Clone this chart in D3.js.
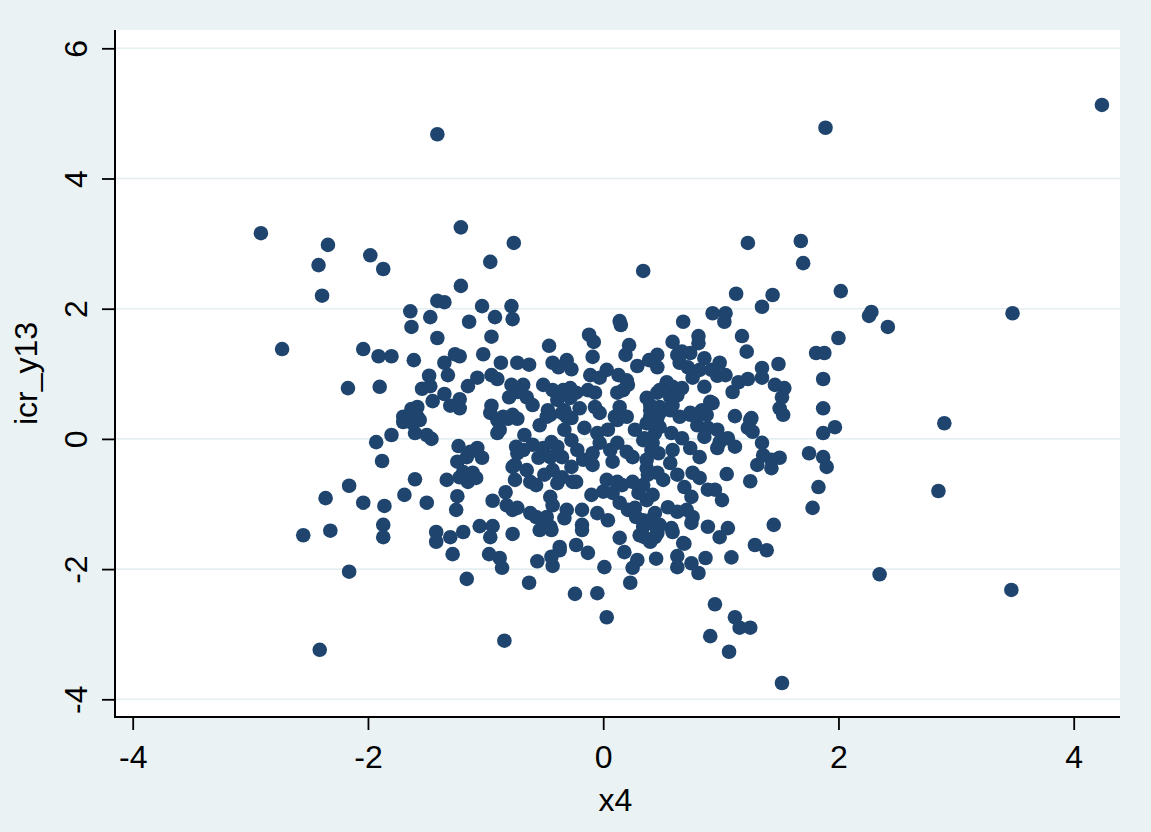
<!DOCTYPE html>
<meta charset="utf-8">
<script src="https://d3js.org/d3.v7.min.js"></script>
<style>
  body { margin: 0; background: #eaf2f3; }
  text { font-family: "Liberation Sans", Arial, Helvetica, sans-serif; }
</style>
<div id="my_dataviz"></div>
<script>
// tick values and axis titles
var xTicks = [-4, -2, 0, 2, 4];
var yTicks = [-4, -2, 0, 2, 4, 6];
var xTitle = "x4";
var yTitle = "icr_y13";

// x4 values
var xVals = [
  4.24, -1.41, 1.89, -2.91, -2.34, -2.42, -2.39, -1.98, -1.87, -1.21,
  -0.96, -0.76, 0.34, 1.23, 1.68, 1.70, 2.02, -2.73, 3.48, 2.26,
  2.28, 2.42, 2.00, 2.90, 2.85, 2.35, 3.47, -2.55, -2.41, -2.16,
  -2.32, -2.36, -2.17, -2.16, -2.04, -2.04, -0.84, 0.03, 1.52, 1.07,
  0.91, 1.16, 1.25, 0.95, 1.12, -0.24, -0.05, -0.63, -1.16, -0.86,
  0.23, -1.21, -1.41, -1.35, -1.64, -1.47, -1.63, -1.41, -1.03, -0.78,
  -1.14, -0.92, -0.77, -0.95, -1.91, -1.80, -1.61, -1.26, -1.22, -1.02,
  -0.87, -0.73, -1.35, -1.32, -1.48, -1.07, -0.95, -0.90, -1.90, -1.54,
  -1.47, -1.15, -0.78, -0.80, -1.45, -1.35, -1.30, -1.22, -1.22, -1.63,
  -1.58, -1.70, -1.58, -0.95, -0.96, -0.77, -0.85, 0.14, 0.15, -0.12,
  -0.08, -0.46, 0.22, 0.19, -0.09, -0.63, -0.43, -0.31, -0.27, -0.38,
  -0.11, -0.03, 0.03, 0.13, 0.20, 0.29, 0.39, 0.46, 0.46, -0.68,
  -0.73, -0.51, -0.43, -0.34, -0.28, -0.39, -0.28, -0.23, -0.13, -0.07,
  0.12, 0.17, 0.14, 0.21, -0.65, -0.60, -0.47, -0.33, -0.20, -0.07,
  -0.03, 0.37, 0.46, 0.46, -0.48, -0.31, 0.10, 0.20, 0.40, 1.13,
  1.44, 1.35, 0.93, 1.04, 1.03, 0.68, 0.81, 0.81, 0.59, 1.18,
  1.22, 1.81, 1.88, 0.63, 0.67, 0.74, 0.65, 0.72, 0.86, 0.99,
  0.92, 0.97, 1.04, 0.76, 0.82, 1.49, 1.35, 1.35, 1.23, 1.15,
  1.10, 1.87, 1.46, 1.54, 1.52, 0.54, 0.48, 0.59, 0.67, 0.57,
  0.63, 0.48, 0.59, 0.40, 0.86, 0.91, 0.93, 0.74, 0.84, 0.88,
  1.12, 1.26, 1.50, 1.53, 1.87, -1.70, -1.62, -1.56, -1.60, -1.50,
  -1.46, -0.90, -0.81, -0.73, -0.90, -1.93, -1.80, -1.88, -1.23, -1.13,
  -1.07, -1.16, -1.03, -1.24, -1.19, -1.11, -1.15, -1.08, -1.22, -0.74,
  -0.73, -0.77, -0.75, -1.60, -1.33, -1.69, -1.50, -1.86, -1.24, -1.25,
  -0.83, -0.94, -0.82, -0.77, -1.87, -1.87, -1.42, -1.42, -1.30, -1.19,
  -1.05, -0.94, -0.96, -0.77, -0.88, -0.54, -0.45, -0.35, -0.27, -0.67,
  -0.68, -0.60, -0.51, -0.55, -0.75, -0.65, -0.62, -0.57, -0.50, -0.43,
  -0.45, -0.35, -0.39, -0.44, -0.33, -0.27, -0.22, -0.17, -0.09, -0.27,
  -0.35, -0.26, -0.16, -0.05, -0.03, -0.09, -0.39, -0.23, -0.73, -0.62,
  -0.57, -0.48, -0.51, -0.45, -0.45, -0.43, -0.31, -0.18, -0.33, -0.18,
  -0.10, 0.00, 0.03, 0.12, 0.08, -0.05, 0.04, 0.14, 0.21, 0.27,
  0.28, 0.34, 0.41, 0.46, 0.16, 0.25, 0.34, 0.30, 0.37, 0.42,
  0.08, 0.06, 0.12, 0.20, 0.25, 0.37, 0.41, 0.46, 0.38, 0.04,
  0.12, 0.27, 0.34, 0.46, 0.44, 0.14, 0.31, 0.40, 0.44, -0.37,
  -0.23, 0.40, 0.48, 0.57, 0.65, 0.74, 0.82, 0.80, 0.89, 0.97,
  0.86, 0.99, 1.12, 1.06, 0.97, 0.82, 0.74, 0.67, 0.58, 0.48,
  0.37, 0.35, 0.42, 0.47, 0.59, 0.57, 0.51, 0.63, 0.69, 0.76,
  0.82, 0.37, 0.89, 0.95, 1.01, 0.75, 1.25, 1.27, 1.23, 1.35,
  1.97, 1.87, 1.36, 1.31, 1.43, 1.50, 1.43, 1.75, 1.87, 1.90,
  1.05, 1.25, 1.83, 1.78, 1.45, 0.89, 1.06, 0.99, 0.44, 0.55,
  0.63, 0.71, 0.76, 0.75, 0.58, 0.48, 0.40, 0.34, 0.35, 0.46,
  0.68, 1.29, 1.39, -1.28, -0.97, -0.88, -0.56, -0.44, -0.43, -0.37,
  -0.13, -0.54, -0.44, -0.18, 0.01, 0.18, 0.29, 0.25, 0.45, 0.59,
  0.63, 0.63, 0.69, 0.75, 0.81, 0.87, 1.09
];

// icr_y13 values, same order as xVals
var yVals = [
  5.13, 4.68, 4.78, 3.16, 2.98, 2.67, 2.20, 2.82, 2.61, 3.25,
  2.72, 3.01, 2.58, 3.01, 3.04, 2.70, 2.27, 1.38, 1.93, 1.89,
  1.95, 1.72, 1.55, 0.24, -0.80, -2.08, -2.32, -1.48, -3.24, -2.04,
  -1.41, -0.91, 0.78, -0.72, 1.38, -0.98, -3.10, -2.74, -3.75, -3.27,
  -3.03, -2.90, -2.90, -2.54, -2.74, -2.38, -2.37, -2.21, -2.15, -1.98,
  -2.21, 2.35, 2.12, 2.10, 1.96, 1.87, 1.72, 1.55, 2.04, 2.04,
  1.80, 1.87, 1.84, 1.57, 1.27, 1.27, 1.21, 1.30, 1.27, 1.30,
  1.17, 1.17, 1.17, 0.98, 0.97, 0.94, 0.98, 0.92, 0.80, 0.77,
  0.81, 0.81, 0.83, 0.64, 0.58, 0.69, 0.51, 0.61, 0.47, 0.46,
  0.49, 0.34, 0.34, 0.51, 0.40, 0.37, 0.34, 1.81, 1.75, 1.60,
  1.49, 1.43, 1.44, 1.29, 1.26, 1.14, 1.17, 1.21, 1.07, 1.10,
  0.98, 0.94, 1.06, 0.98, 0.90, 1.12, 1.21, 1.29, 1.10, 0.83,
  0.72, 0.83, 0.75, 0.75, 0.78, 0.60, 0.63, 0.71, 0.75, 0.71,
  0.71, 0.75, 0.49, 0.83, 0.64, 0.52, 0.44, 0.44, 0.47, 0.49,
  0.40, 0.63, 0.71, 0.47, 0.34, 0.34, 0.34, 0.34, 0.34, 2.23,
  2.21, 2.03, 1.93, 1.93, 1.80, 1.80, 1.58, 1.47, 1.49, 1.58,
  1.34, 1.32, 1.32, 1.29, 1.34, 1.32, 1.17, 1.10, 1.24, 1.17,
  1.06, 0.97, 0.98, 0.94, 1.06, 1.15, 1.09, 0.94, 0.92, 0.87,
  0.72, 0.92, 0.83, 0.78, 0.64, 0.87, 0.75, 0.80, 0.78, 0.64,
  0.67, 0.49, 0.52, 0.52, 0.80, 0.57, 0.55, 0.40, 0.44, 0.37,
  0.35, 0.32, 0.47, 0.37, 0.47, 0.26, 0.24, 0.29, 0.09, 0.06,
  0.00, 0.29, 0.31, 0.31, 0.09, -0.05, 0.06, -0.34, -0.11, -0.20,
  -0.14, -0.28, -0.29, -0.35, -0.51, -0.52, -0.66, -0.60, -0.59, -0.12,
  -0.22, -0.43, -0.63, -0.62, -0.63, -0.86, -0.98, -1.03, -0.88, -1.09,
  -0.82, -0.95, -1.02, -1.09, -1.32, -1.51, -1.43, -1.58, -1.51, -1.43,
  -1.34, -1.34, -1.51, -1.46, 0.14, 0.21, 0.37, 0.40, 0.32, 0.06,
  -0.17, -0.09, -0.14, -0.29, -0.40, -0.48, -0.66, -0.71, -0.55, -0.48,
  -0.28, -0.28, -0.12, -0.05, 0.14, -0.02, -0.17, -0.32, -0.40, -0.43,
  -0.59, -0.66, 0.17, 0.09, -0.06, -0.22, -0.68, -0.66, -1.06, -1.14,
  -1.20, -1.20, -1.35, -1.35, -0.89, -1.02, -1.09, -1.09, -1.22, -1.32,
  -0.86, -0.81, -0.63, -0.66, -0.83, -1.14, -1.25, -0.98, -1.09, -1.06,
  -1.20, -1.25, -1.29, -1.40, -0.71, -0.66, -0.71, -0.83, -0.94, -0.86,
  -0.35, -0.17, -0.06, -0.20, -0.28, -0.32, -0.17, -0.52, -0.55, 0.14,
  0.29, 0.14, -0.02, 0.32, 0.09, -1.52, -1.48, -1.58, -1.51, -1.66,
  -1.63, 0.44, 0.40, 0.44, 0.34, 0.37, 0.40, 0.21, 0.17, 0.14,
  0.03, -0.05, -0.12, 0.01, -0.14, -0.28, -0.14, 0.01, 0.09, 0.18,
  0.24, 0.01, -0.06, -0.22, -0.17, -0.37, -0.63, -0.55, -0.74, -0.52,
  -0.60, -0.45, -0.78, -0.78, -0.94, -0.89, 0.29, 0.11, 0.17, -0.06,
  0.18, 0.09, -0.25, -0.40, -0.45, -0.29, -0.32, -0.22, -0.28, -0.43,
  -0.54, -0.65, -0.74, -1.06, -1.32, -1.35, -1.37, -1.51, -1.14, -1.05,
  -1.12, -1.09, -1.20, -1.29, -1.37, -1.32, -1.25, -1.35, -1.51, -1.45,
  -1.60, -1.63, -1.71, -1.77, -1.77, -1.83, -1.88, -1.81, -1.95, -1.71,
  -1.75, -1.40, -1.40, -1.40, -1.97, -1.74, -1.86, -1.98, -1.84, -1.43,
  -1.80, -1.97, -1.61, -1.91, -2.06, -1.83, -1.82
];

var data = xVals.map(function (v, i) { return {x: v, y: yVals[i]}; });

// plain hyphen minus, like the original labels
var fmt = function (d) { return String(d); };

// page and plot region
var W = 1151, H = 832;
var plot = {left: 115, right: 1120, top: 30, bottom: 717};

var svg = d3.select("#my_dataviz")
  .append("svg")
    .attr("width", W)
    .attr("height", H);

svg.append("rect")
  .attr("width", W).attr("height", H)
  .attr("fill", "#eaf2f3");

svg.append("rect")
  .attr("x", plot.left).attr("y", plot.top)
  .attr("width", plot.right - plot.left)
  .attr("height", plot.bottom - plot.top)
  .attr("fill", "#ffffff");

// scales
var x = d3.scaleLinear()
  .domain([-4, 4])
  .range([132.7, 1073.7]);

var y = d3.scaleLinear()
  .domain([-4, 6])
  .range([699.3, 48.3]);

// horizontal grid lines
svg.append("g")
  .selectAll("line")
  .data(yTicks)
  .enter()
  .append("line")
    .attr("x1", plot.left).attr("x2", plot.right)
    .attr("y1", function (d) { return y(d); })
    .attr("y2", function (d) { return y(d); })
    .attr("stroke", "#e4eff1")
    .attr("stroke-width", 1.6);

// Add Y axis
var yAxis = svg.append("g")
  .attr("transform", "translate(" + plot.left + ",0)")
  .call(d3.axisLeft(y).tickValues(yTicks).tickFormat(fmt).tickSize(13).tickSizeOuter(0));
yAxis.select(".domain").remove();
yAxis.selectAll(".tick line").attr("stroke", "#000").attr("stroke-width", 1.8);
yAxis.selectAll(".tick text")
  .attr("x", 0).attr("y", 0).attr("dy", null)
  .attr("text-anchor", "middle")
  .attr("transform", "translate(-28,0) rotate(-90)")
  .attr("fill", "#000")
  .style("font-size", "32px")
  .style("font-family", "'Liberation Sans', Arial, sans-serif");

// Add X axis
var xAxis = svg.append("g")
  .attr("transform", "translate(0," + plot.bottom + ")")
  .call(d3.axisBottom(x).tickValues(xTicks).tickFormat(fmt).tickSize(13).tickSizeOuter(0));
xAxis.select(".domain").remove();
xAxis.selectAll(".tick line").attr("stroke", "#000").attr("stroke-width", 1.8);
xAxis.selectAll(".tick text")
  .attr("y", 51).attr("dy", null)
  .attr("fill", "#000")
  .style("font-size", "32px")
  .style("font-family", "'Liberation Sans', Arial, sans-serif");

// axis lines along the whole plot region
svg.append("line")
  .attr("x1", plot.left).attr("x2", plot.left)
  .attr("y1", plot.top).attr("y2", plot.bottom + 1)
  .attr("stroke", "#000").attr("stroke-width", 2);
svg.append("line")
  .attr("x1", plot.left - 1).attr("x2", plot.right)
  .attr("y1", plot.bottom).attr("y2", plot.bottom)
  .attr("stroke", "#000").attr("stroke-width", 2);

// axis titles
svg.append("text")
  .attr("x", (plot.left + plot.right) / 2 - 2)
  .attr("y", 811)
  .attr("text-anchor", "middle")
  .style("font-size", "32px")
  .text(xTitle);

svg.append("text")
  .attr("text-anchor", "middle")
  .attr("transform", "translate(37," + ((plot.top + plot.bottom) / 2) + ") rotate(-90)")
  .style("font-size", "32px")
  .text(yTitle);

// Add dots
svg.append("g")
  .selectAll("circle")
  .data(data)
  .enter()
  .append("circle")
    .attr("cx", function (d) { return x(d.x); })
    .attr("cy", function (d) { return y(d.y); })
    .attr("r", 7.3)
    .style("fill", "#1f456f");
</script>
